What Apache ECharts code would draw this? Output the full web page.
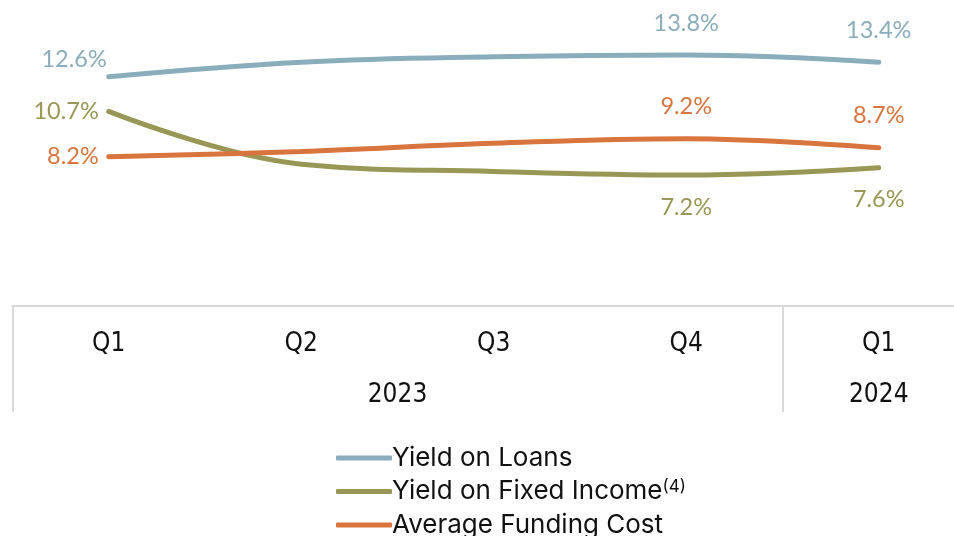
<!DOCTYPE html>
<html><head><meta charset="utf-8">
<script src="https://cdn.jsdelivr.net/npm/echarts@6/dist/echarts.min.js"></script>
<style>html,body{margin:0;padding:0;background:#fff;overflow:hidden;width:954px;height:536px}#c{width:978px;height:570px}</style>
</head><body><div id="c"></div>
<script>
const quarters = ['Q1','Q2','Q3','Q4','Q1'];
const years = ['2023','2024'];
const yieldLoans = [12.6, 13.4, 13.7, 13.8, 13.4];
const yieldFixed = [10.7, 7.8, 7.4, 7.2, 7.6];
const fundingCost = [8.2, 8.5, 8.95, 9.2, 8.7];
const seriesNames = ['Yield on Loans','Yield on Fixed Income','Average Funding Cost'];
const labelledIdx = [0, 3, 4];

const colors = ['#8AADBC','#989756','#D8743D'];
const labelFont = 'Lato';
const axisFont = 'DejaVu Sans Condensed';

function build(vals, color, firstLbl, laterPos) {
  return vals.map((v, i) => {
    if (labelledIdx.indexOf(i) < 0) return v;
    const lbl = i === 0 ? firstLbl : { position: laterPos, distance: 20 };
    return { value: v, label: Object.assign({ show: true, color: color, fontSize: 23.5, fontFamily: labelFont,
      formatter: p => p.value.toFixed(1) + '%' }, lbl) };
  });
}

const chart = echarts.init(document.getElementById('c'));
chart.setOption({
  animation: false,
  grid: { left: 12.5, right: 0, top: 15, bottom: 264 },
  xAxis: [{
    type: 'category', data: quarters, boundaryGap: true,
    axisLine: { show: true, lineStyle: { color: '#D9D9D9', width: 2 } },
    axisTick: { show: true, length: 106, interval: (i) => i === 0 || i === 4, lineStyle: { color: '#D9D9D9', width: 2 } },
    axisLabel: { color: '#111', fontSize: 26, fontFamily: axisFont, margin: 25 }
  }, {
    type: 'value', min: -0.5, max: 4.5, interval: 0.5, position: 'bottom', offset: 76,
    axisLine: { show: false }, axisTick: { show: false }, splitLine: { show: false },
    axisLabel: { color: '#111', fontSize: 26, fontFamily: axisFont, margin: 0,
      formatter: v => Math.abs(v - 1.5) < 1e-6 ? years[0] : (Math.abs(v - 4) < 1e-6 ? years[1] : '') }
  }],
  yAxis: { type: 'value', min: 0, max: 16, show: false, splitLine: { show: false } },
  legend: {
    orient: 'vertical', left: 331, top: 440, itemWidth: 56, itemHeight: 5, itemGap: 7.5,
    icon: 'roundRect',
    textStyle: { color: '#111', fontSize: 26, fontFamily: 'Inter', padding: [0,0,0,-5],
      rich: { sup: { fontSize: 17, fontFamily: 'Inter', color: '#111', verticalAlign: 'top', lineHeight: 14 } } },
    formatter: n => n === seriesNames[1] ? n + '{sup|(4)}' : n,
    data: seriesNames
  },
  series: [
    { name: seriesNames[0], type: 'line', smooth: 0.4, symbol: 'circle', symbolSize: 0, color: colors[0],
      lineStyle: { width: 5, cap: 'round' },
      data: build(yieldLoans, colors[0], { position: 'left', distance: 2, offset: [0, -17] }, 'top') },
    { name: seriesNames[1], type: 'line', smooth: 0.4, symbol: 'circle', symbolSize: 0, color: colors[1],
      lineStyle: { width: 5, cap: 'round' },
      data: build(yieldFixed, colors[1], { position: 'left', distance: 10 }, 'bottom') },
    { name: seriesNames[2], type: 'line', smooth: 0.4, symbol: 'circle', symbolSize: 0, color: colors[2],
      lineStyle: { width: 5, cap: 'round' },
      data: build(fundingCost, colors[2], { position: 'left', distance: 10 }, 'top') }
  ]
});
</script></body></html>
